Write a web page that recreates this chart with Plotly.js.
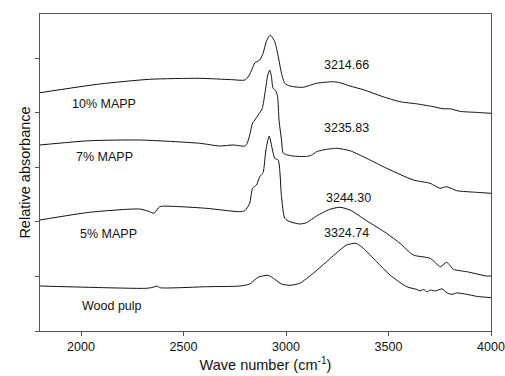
<!DOCTYPE html>
<html>
<head>
<meta charset="utf-8">
<script src="https://cdn.plot.ly/plotly-3.0.1.min.js"></script>
<style>html,body{margin:0;padding:0;background:#fff;}#chart{width:505px;height:376px;}</style>
</head>
<body>
<div id="chart"></div>
<script>
// Wave numbers (cm^-1) and relative absorbance (arbitrary offset units)
const wn10 = [1800, 2091, 2335, 2579, 2736, 2800, 2818, 2835, 2848, 2872, 2888, 2904, 2923, 2945, 2962, 2978, 2994, 3019, 3082, 3149, 3229, 3263, 3312, 3377, 3473, 3556, 3638, 3717, 3766, 3800, 3850, 3930, 4000];
const ab10 = [4.364, 4.524, 4.610, 4.628, 4.603, 4.597, 4.670, 4.800, 4.910, 4.963, 5.087, 5.300, 5.420, 5.300, 5.030, 4.720, 4.536, 4.487, 4.463, 4.537, 4.566, 4.548, 4.487, 4.420, 4.291, 4.200, 4.160, 4.110, 4.070, 4.070, 4.022, 4.004, 3.987];

const wn7 = [1800, 2042, 2286, 2579, 2677, 2741, 2799, 2811, 2823, 2837, 2848, 2864, 2881, 2888, 2902, 2911, 2921, 2929, 2937, 2950, 2959, 2966, 2978, 2986, 3002, 3033, 3100, 3125, 3149, 3180, 3247, 3312, 3393, 3491, 3621, 3703, 3751, 3784, 3833, 3930, 4000];
const ab7 = [3.407, 3.485, 3.498, 3.438, 3.388, 3.407, 3.388, 3.443, 3.590, 3.810, 3.864, 3.956, 4.048, 4.139, 4.474, 4.689, 4.780, 4.658, 4.444, 4.401, 4.291, 3.864, 3.500, 3.260, 3.230, 3.205, 3.196, 3.223, 3.284, 3.315, 3.346, 3.302, 3.163, 2.980, 2.766, 2.705, 2.614, 2.643, 2.570, 2.540, 2.522];

const wn5 = [1800, 2042, 2286, 2335, 2356, 2384, 2482, 2612, 2775, 2799, 2823, 2837, 2856, 2872, 2888, 2902, 2918, 2934, 2945, 2962, 2978, 2994, 3019, 3067, 3100, 3149, 3214, 3263, 3312, 3393, 3491, 3556, 3621, 3703, 3753, 3784, 3817, 3882, 3979, 4000];
const ab5 = [2.033, 2.174, 2.234, 2.185, 2.156, 2.277, 2.277, 2.247, 2.185, 2.203, 2.339, 2.614, 2.674, 2.826, 2.899, 3.315, 3.571, 3.315, 3.163, 3.132, 2.460, 2.064, 2.002, 1.960, 1.984, 2.106, 2.229, 2.266, 2.216, 2.020, 1.789, 1.606, 1.392, 1.332, 1.178, 1.258, 1.130, 1.086, 1.007, 1.007];

const wnPulp = [1800, 2042, 2319, 2351, 2371, 2384, 2612, 2775, 2823, 2864, 2913, 2945, 2978, 3019, 3067, 3133, 3198, 3263, 3296, 3341, 3377, 3442, 3507, 3589, 3638, 3655, 3672, 3688, 3704, 3729, 3761, 3786, 3810, 3833, 3882, 3930, 4000];
const abPulp = [0.824, 0.800, 0.782, 0.800, 0.824, 0.793, 0.811, 0.824, 0.861, 0.984, 1.020, 0.947, 0.861, 0.837, 0.874, 1.057, 1.269, 1.484, 1.575, 1.606, 1.515, 1.269, 1.026, 0.811, 0.761, 0.735, 0.761, 0.717, 0.749, 0.735, 0.771, 0.697, 0.672, 0.697, 0.672, 0.635, 0.611];

const seriesNames = ["10% MAPP", "7% MAPP", "5% MAPP", "Wood pulp"];
const seriesLabelX = [2114, 2117, 2132, 2152];
const seriesLabelY = [4.152, 3.192, 1.771, 0.467];
const peakLabels = ["3214.66", "3235.83", "3244.30", "3324.74"];
const peakLabelX = [3297, 3297, 3307, 3297];
const peakLabelY = [4.863, 3.718, 2.430, 1.786];

const xs = [wn10, wn7, wn5, wnPulp];
const ys = [ab10, ab7, ab5, abPulp];

const traces = xs.map((x, i) => ({
  x: x, y: ys[i], type: 'scatter', mode: 'lines', name: seriesNames[i],
  line: {color: '#111', width: 1, shape: 'spline', smoothing: 0.6},
  hoverinfo: 'skip'
}));

const font = {family: 'Liberation Sans, Arial, sans-serif', size: 12.5, color: '#111'};
const annotations = [];
seriesNames.forEach((t, i) => annotations.push({x: seriesLabelX[i], y: seriesLabelY[i], xref: 'x', yref: 'y', text: t, showarrow: false, font: font}));
peakLabels.forEach((t, i) => annotations.push({x: peakLabelX[i], y: peakLabelY[i], xref: 'x', yref: 'y', text: t, showarrow: false, font: font}));

const layout = {
  width: 505, height: 376,
  margin: {l: 40, r: 14, t: 14, b: 45},
  paper_bgcolor: '#fff', plot_bgcolor: '#fff',
  showlegend: false,
  font: font,
  xaxis: {
    range: [1800, 4000], tickvals: [2000, 2500, 3000, 3500, 4000],
    ticks: 'outside', ticklen: 4, tickcolor: '#555', tickwidth: 1,
    showline: true, linecolor: '#555', linewidth: 1, mirror: true,
    showgrid: false, zeroline: false,
    tickfont: font,
    title: {text: 'Wave number (cm<sup>-1</sup>)', font: {family: font.family, size: 14.5, color: '#111'}, standoff: 6}
  },
  yaxis: {
    range: [0, 5.806], tickvals: [0, 1, 2, 3, 4, 5], showticklabels: false,
    ticks: 'outside', ticklen: 4, tickcolor: '#555', tickwidth: 1,
    showline: true, linecolor: '#555', linewidth: 1, mirror: true,
    showgrid: false, zeroline: false,
    title: {text: 'Relative absorbance', font: {family: font.family, size: 14.5, color: '#111'}, standoff: 0}
  },
  annotations: annotations
};

Plotly.newPlot('chart', traces, layout, {staticPlot: true, displayModeBar: false});
</script>
</body>
</html>
